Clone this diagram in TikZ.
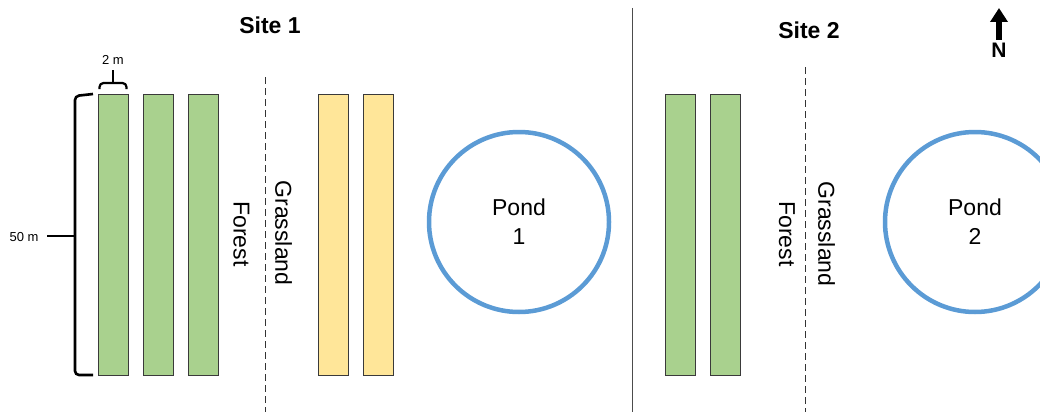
\documentclass[tikz,border=0pt]{standalone}
\usepackage{fontspec}
\setmainfont{Liberation Sans}
\usetikzlibrary{arrows.meta}
\definecolor{plotgreen}{HTML}{A9D18E}
\definecolor{plotyellow}{HTML}{FFE699}
\definecolor{pondblue}{HTML}{5B9BD5}
\definecolor{edgegray}{HTML}{3A3A3A}
\tikzset{
  plot/.style={draw=edgegray, line width=0.9pt, minimum width=30pt, minimum height=281pt, inner sep=0pt, anchor=north west},
  forestplot/.style={plot, fill=plotgreen},
  grassplot/.style={plot, fill=plotyellow},
  pond/.style={circle, draw=pondblue, line width=4.5pt, minimum size=180pt, inner sep=0pt, align=center, font=\fontsize{23}{29}\selectfont},
  edge/.style={draw=black!80, dashed, line width=0.9pt, dash pattern=on 7pt off 4pt},
  zone/.style={rotate=-90, font=\fontsize{23}{27}\selectfont},
  title/.style={font=\fontsize{23}{27}\selectfont\bfseries},
  brace/.style={line width=2.6pt, rounded corners=4pt},
  dim/.style={font=\fontsize{13}{15}\selectfont}
}
\begin{document}
\begin{tikzpicture}[x=1pt,y=-1pt]
\useasboundingbox (0,0) rectangle (1040,412);
\clip (0,0) rectangle (1040,412);

% site separator
\coordinate (sepT) at (632,8);
\coordinate (sepB) at (632,412);
\draw[line width=0.8pt, black!70] (sepT) -- (sepB);

% titles and north arrow
\node[title] (site1) at (270,25) {Site 1};
\node[title] (site2) at (809,30) {Site 2};
\coordinate (nA) at (999,40);
\coordinate (nB) at (999,8);
\draw[line width=6pt, -{Triangle[width=17pt,length=14pt]}] (nA) -- (nB);
\node[font=\fontsize{21}{24}\selectfont\bfseries] (north) at (999,50) {N};

% site 1 plots
\node[forestplot] (f1) at (98,94) {};
\node[forestplot] (f2) at (143,94) {};
\node[forestplot] (f3) at (188,94) {};
\node[grassplot] (g1) at (318,94) {};
\node[grassplot] (g2) at (363,94) {};

% site 1 edge
\coordinate (e1T) at (265,77);
\coordinate (e1B) at (265,412);
\draw[edge] (e1T) -- (e1B);
\node[zone] (forest1) at (241.5,234) {Forest};
\node[zone] (grass1) at (283.5,233) {Grassland};

% pond 1
\node[pond] (pond1) at (519,222) {Pond\\1};

% site 2 plots
\node[forestplot] (f4) at (665,94) {};
\node[forestplot] (f5) at (710,94) {};

% site 2 edge
\coordinate (e2T) at (805,67);
\coordinate (e2B) at (805,412);
\draw[edge] (e2T) -- (e2B);
\node[zone] (forest2) at (787,234) {Forest};
\node[zone] (grass2) at (826.5,234) {Grassland};

% pond 2
\node[pond] (pond2) at (975,222) {Pond\\2};

% width bracket
\coordinate (wL) at (99.5,89);
\coordinate (wR) at (126.5,89);
\coordinate (wM) at (113,83);
\coordinate (wT) at (113,70);
\draw[brace, line width=2.2pt] (wL) -- (99.5,83) -- (126.5,83) -- (wR);
\draw[line width=2.2pt] (wM) -- (wT);
\node[dim] (wlab) at (113,60) {2 m};

% length bracket
\coordinate (lT) at (93,94);
\coordinate (lB) at (93,375);
\coordinate (lM) at (75,236);
\coordinate (lE) at (47,236);
\draw[brace] (lT) -- (75,96) -- (75,375) -- (lB);
\draw[line width=2.4pt] (lM) -- (lE);
\node[dim, anchor=east] (llab) at (42,237) {50 m};
\end{tikzpicture}
\end{document}
